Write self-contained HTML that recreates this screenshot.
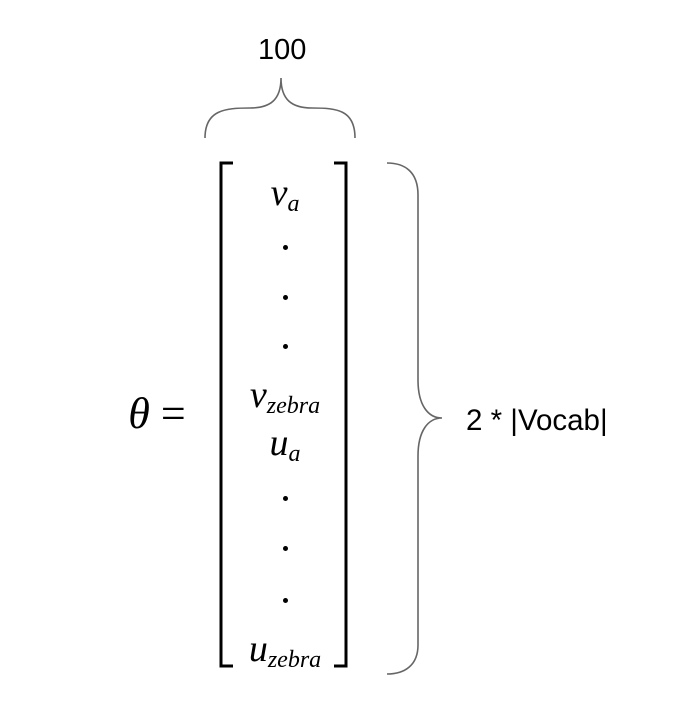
<!DOCTYPE html>
<html><head><meta charset="utf-8"><style>
html,body{margin:0;padding:0;background:#fff;}
body{width:678px;height:724px;position:relative;overflow:hidden;}
.t{position:absolute;font-family:"Liberation Sans",Arial,sans-serif;color:#000;white-space:nowrap;}
.m{position:absolute;font-family:"Liberation Serif","DejaVu Serif",serif;font-style:italic;color:#000;white-space:nowrap;transform:translateX(-50%);line-height:1;}
.m sub{font-size:24px;vertical-align:-6px;}
.d{position:absolute;width:5px;height:5px;border-radius:50%;background:#000;}
</style></head><body>
<div class="t" style="left:258px;top:34px;font-size:29px;">100</div>
<svg width="678" height="724" style="position:absolute;left:0;top:0">
<path d="M205,138 C205,110 225,108 250,108 C270,108 281,100 281,78 C281,100 292,108 312,108 C337,108 355,110 355,138" fill="none" stroke="#666" stroke-width="1.6"/>
<path d="M387,163 C405,163 418,172 418,195 L418,380 C418,405 428,418 442,418 C428,418 418,431 418,456 L418,645 C418,665 405,674 387,674" fill="none" stroke="#666" stroke-width="1.6"/>
<path d="M233,163 L221,163 L221,666 L233,666" fill="none" stroke="#000" stroke-width="3"/>
<path d="M334,163 L346,163 L346,666 L334,666" fill="none" stroke="#000" stroke-width="3"/>
</svg>
<div class="m" style="left:157px;top:392px;font-size:44px;">θ&nbsp;<span style="font-style:normal">=</span></div>
<div class="m" style="left:285px;top:174px;font-size:38px;">v<sub>a</sub></div>
<div class="d" style="left:283px;top:245px"></div>
<div class="d" style="left:283px;top:295px"></div>
<div class="d" style="left:283px;top:344px"></div>
<div class="m" style="left:285px;top:376px;font-size:38px;">v<sub>zebra</sub></div>
<div class="m" style="left:285px;top:424px;font-size:38px;">u<sub>a</sub></div>
<div class="d" style="left:283px;top:496px"></div>
<div class="d" style="left:283px;top:546px"></div>
<div class="d" style="left:283px;top:598px"></div>
<div class="m" style="left:285px;top:630px;font-size:38px;">u<sub>zebra</sub></div>
<div class="t" style="left:466px;top:404px;font-size:29.5px;">2 * |Vocab|</div>
</body></html>
